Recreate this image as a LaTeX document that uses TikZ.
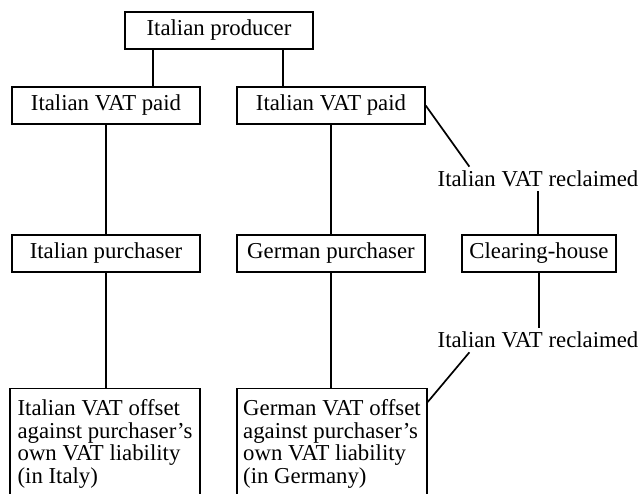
\documentclass[tikz,border=0pt]{standalone}
\usepackage{fontspec}
\setmainfont{Liberation Serif}
\usetikzlibrary{calc}
\newcommand\vatfont{\fontsize{16.2pt}{16pt}\selectfont}

\begin{document}
\begin{tikzpicture}[
		box/.style={draw, line width=1pt, minimum width=4.7cm, minimum height=0.925cm, inner sep=0pt, font=\vatfont},
		offset/.style={draw, line width=1pt, minimum width=4.75cm, minimum height=2.75cm, inner sep=0pt, align=left, anchor=north, font=\vatfont},
		tag/.style={inner sep=0.1cm, font=\vatfont},
		wire/.style={line width=1.2pt}
	]
			%%%%% START %%%%%
			
			\useasboundingbox (0, 0) rectangle (16.025, 12.325);
			
			\node[box] (prod) at (5.475, 11.5625) {Italian producer};
			\node[box] (paidL) at (2.65, 9.6875) {Italian VAT paid};
			\node[box] (paidR) at (8.275, 9.6875) {Italian VAT paid};
			
			\node[box] (buyIT) at (2.65, 5.9875) {Italian purchaser};
			\node[box] (buyDE) at (8.275, 5.9875) {German purchaser};
			\node[box, minimum width=3.85cm] (clear) at (13.475, 5.9875) {Clearing-house};
			
			\node[tag] (back1) at (13.45, 7.85) {Italian VAT reclaimed};
			\node[tag] (back2) at (13.45, 3.825) {Italian VAT reclaimed};
			
			\node[offset] (offIT) at (2.625, 2.625) {Italian VAT offset\\against purchaser's\\own VAT liability\\(in Italy)};
			\node[offset] (offDE) at (8.3, 2.625) {German VAT offset\\against purchaser's\\own VAT liability\\(in Germany)};
			
			\draw[wire] ([xshift=-1.65cm]prod.south) -- ([xshift=-1.65cm]prod.south |- paidL.north);
			\draw[wire] ([xshift=1.6cm]prod.south) -- ([xshift=1.6cm]prod.south |- paidR.north);
			
			\draw[wire] (paidL) -- (buyIT);
			\draw[wire] (paidR) -- (buyDE);
			\draw[wire] (buyIT.south) -- (buyIT.south |- offIT.north);
			\draw[wire] (buyDE.south) -- (buyDE.south |- offDE.north);
			
			\draw[wire] (paidR.east) -- ([xshift=0.9cm]back1.north west);
			\draw[wire] (back1.south) -- (back1.south |- clear.north);
			\draw[wire] (clear.south) -- (clear.south |- back2.north);
			\draw[wire] ([xshift=0.9cm]back2.south west) -- ([yshift=-0.35cm]offDE.north east);
			
			%%%%% END %%%%%
\end{tikzpicture}
\end{document}
